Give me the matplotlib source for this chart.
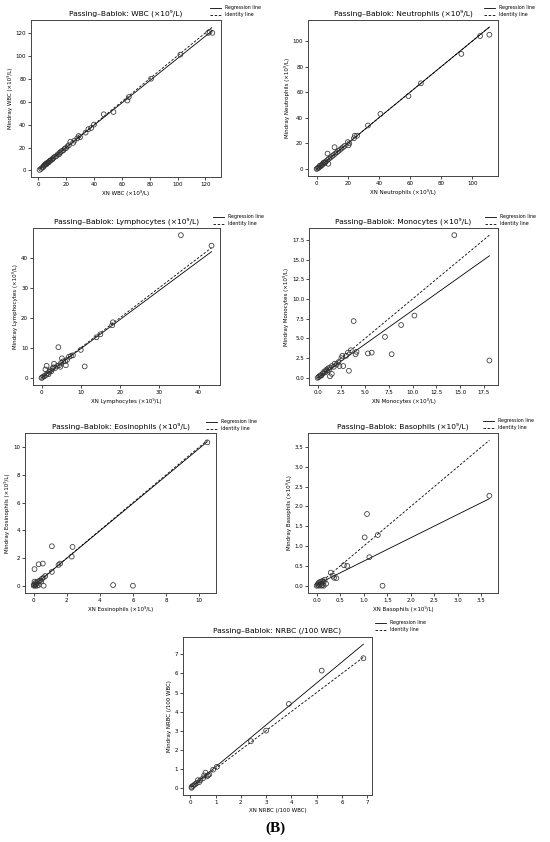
import matplotlib
matplotlib.use('Agg')
import matplotlib.pyplot as plt

W, H = 550, 842

# ---- data ----
wbc_x = [1, 2, 3, 3.5, 4, 4.5, 5, 5.5, 6, 6.5, 7, 7.5, 8, 8.5, 9, 10, 10.5, 11, 12, 13, 14, 15, 15.5, 16, 17, 18,
         19, 20, 21, 22, 23, 25, 26, 28, 29, 30, 34, 36, 38, 40, 47, 54, 64, 65, 81, 102, 122, 123, 125]
wbc_y = [0.5, 1.5, 2.5, 3, 4, 4.5, 5, 6, 5.5, 6.5, 7, 7, 8, 8.5, 9, 9.5, 10.5, 11, 12, 12.5, 14, 14, 15.5, 16, 17, 17.5,
         19, 19.5, 21, 22, 25, 24, 26, 28, 30, 29, 33, 36, 37, 40, 49, 51, 61, 64, 80, 101, 120, 121, 120]

neu_x = [0, 0.5, 1, 1.5, 2, 2.5, 3, 3.5, 4, 4.5, 5, 5.5, 6, 7, 7, 7.5, 8, 9, 10, 11, 11.5, 12, 13, 14, 15, 16, 17,
         18, 20, 20.5, 21, 24, 24.5, 26, 33, 41, 59, 67, 93, 105, 111]
neu_y = [0, 0.3, 1, 1, 2.5, 2, 3, 3, 4, 5, 4.5, 5, 6, 7, 12, 4, 8, 9, 10, 11, 17, 12, 13, 14, 15, 16, 17,
         18, 21, 18.5, 20, 24, 26, 26, 34, 43, 57, 67, 90, 104, 105]

lym_x = [0, 0.2, 0.5, 0.8, 1, 1.2, 1.3, 1.5, 1.8, 2, 2.2, 2.5, 2.8, 3, 3.2, 3.5, 4, 4.3, 4.5, 4.8, 5, 5.2, 5.5,
         6, 6.2, 6.5, 7, 7.5, 8, 10, 11, 14, 15, 18, 18.2, 35.5, 43.3]
lym_y = [0, 0.1, 0.5, 0.6, 2.8, 1, 4, 1.5, 1.2, 2, 2.5, 2.2, 3, 3.5, 4.7, 3.3, 4, 10.2, 4.2, 3.7, 5, 6.5, 5.5,
         5.5, 4.2, 6, 7, 7.3, 7.5, 9.3, 3.8, 13.5, 14.5, 17.5, 18.5, 47.5, 44]

mon_x = [0, 0.1, 0.2, 0.3, 0.4, 0.5, 0.6, 0.7, 0.8, 0.9, 1, 1.1, 1.2, 1.3, 1.3, 1.5, 1.5, 1.7, 1.8, 2, 2.2, 2.3,
         2.5, 2.6, 2.7, 3, 3.2, 3.3, 3.5, 3.8, 4, 4.1, 5.3, 5.7, 7.1, 7.8, 8.8, 10.2, 14.4, 18.1]
mon_y = [0, 0.1, 0.2, 0.3, 0.3, 0.5, 0.6, 0.8, 0.7, 1, 0.9, 1.2, 1, 1.3, 0.2, 1.5, 0.5, 1.4, 1.8, 1.7, 2, 1.5,
         2.5, 2.8, 1.5, 2.8, 3.2, 0.9, 3.5, 7.2, 3, 3.3, 3.1, 3.2, 5.2, 3, 6.7, 7.9, 18.1, 2.2]

eos_x = [0, 0.02, 0.05, 0.05, 0.05, 0.1, 0.1, 0.15, 0.2, 0.2, 0.25, 0.3, 0.3, 0.35, 0.4, 0.45, 0.5, 0.55, 0.6,
         0.6, 0.7, 1.1, 1.1, 1.5, 1.6, 2.3, 2.35, 4.8, 6.0, 10.5]
eos_y = [0, 0.1, 0.05, 0.3, 1.2, 0, 0.2, 0.1, 0.2, 0, 0.3, 1.55, 0.05, 0.35, 0.4, 0.3, 0.5, 1.6, 0,
         0.6, 0.7, 1.0, 2.85, 1.5, 1.6, 2.1, 2.8, 0.05, 0, 10.35]

bas_x = [0, 0.02, 0.03, 0.05, 0.05, 0.07, 0.08, 0.1, 0.1, 0.12, 0.13, 0.15, 0.15, 0.17, 0.2, 0.3, 0.35, 0.37,
         0.42, 0.58, 0.65, 1.02, 1.07, 1.12, 1.3, 1.4, 3.67]
bas_y = [0, 0.02, 0.05, 0, 0.08, 0.03, 0.1, 0, 0.05, 0.12, 0.02, 0.1, 0, 0.15, 0.05, 0.33, 0.25, 0.2,
         0.19, 0.52, 0.5, 1.22, 1.81, 0.72, 1.28, 0, 2.27]

nrb_x = [0.05, 0.05, 0.1, 0.15, 0.2, 0.25, 0.3, 0.35, 0.4, 0.5, 0.55, 0.6, 0.65, 0.7, 0.75, 0.9, 1.05,
         2.4, 3.0, 3.9, 5.2, 6.85]
nrb_y = [0, 0.05, 0.1, 0.15, 0.2, 0.25, 0.4, 0.3, 0.4, 0.5, 0.65, 0.8, 0.6, 0.65, 0.7, 0.95, 1.1,
         2.45, 3.0, 4.4, 6.15, 6.8]

# regression (intercept, slope)
reg = {'WBC': (0.5, 0.972), 'Neutrophils': (0.0, 1.0), 'Lymphocytes': (0.0, 0.97),
       'Monocytes': (0.0, 0.855), 'Eosinophils': (0.0, 0.99), 'Basophils': (0.03, 0.59),
       'NRBC': (0.0, 1.1)}

names = ['WBC', 'Neutrophils', 'Lymphocytes', 'Monocytes', 'Eosinophils', 'Basophils', 'NRBC']
xs = [wbc_x, neu_x, lym_x, mon_x, eos_x, bas_x, nrb_x]
ys = [wbc_y, neu_y, lym_y, mon_y, eos_y, bas_y, nrb_y]

# axes boxes in pixels: left, top, right, bottom ; legend anchor x, y
boxes = [(31, 20, 221, 177), (308, 20, 498, 176),
         (33, 228, 220, 385), (309, 228, 498, 385),
         (25, 433, 216, 593), (308, 433, 498, 593),
         (183, 637, 372, 795)]
leg_pos = [(208, 3), (482, 3), (211, 212), (483, 212), (204, 417), (481, 416), (373, 618)]

plt.rcParams['font.family'] = 'DejaVu Sans'
fig = plt.figure(figsize=(W/100, H/100), dpi=100)

for i, name in enumerate(names):
    l, t, r, b = boxes[i]
    ax = fig.add_axes([l/W, 1-b/H, (r-l)/W, (b-t)/H])
    x, y = xs[i], ys[i]
    if name == 'NRBC':
        unit = '(/100 WBC)'
    else:
        unit = '(×10⁹/L)'
    a, k = reg[name]
    x0, x1 = min(x), max(x)
    ax.scatter(x, y, s=12, facecolors='none', edgecolors='#333333', linewidths=0.55, zorder=3)
    ax.plot([x0, x1], [a + k*x0, a + k*x1], color='black', lw=0.6, label='Regression line')
    ax.plot([x0, x1], [x0, x1], color='black', lw=0.6, ls='--', dashes=(3, 2), label='Identity line')
    ax.set_title('Passing–Bablok: %s %s' % (name, unit), fontsize=5.4, pad=3)
    ax.set_xlabel('XN %s %s' % (name, unit), fontsize=4.0, labelpad=2)
    ax.set_ylabel('Mindray %s %s' % (name, unit), fontsize=4.0, labelpad=2)
    ax.tick_params(labelsize=4.0, length=2, width=0.5, pad=1.5)
    for sp in ax.spines.values():
        sp.set_linewidth(0.7)
        sp.set_color('#444444')
    lx, ly = leg_pos[i]
    ax.legend(loc='upper left', bbox_to_anchor=(lx/W, 1-ly/H), bbox_transform=fig.transFigure,
              frameon=False, fontsize=3.4, handlelength=2.2, borderpad=0, labelspacing=0.4)

fig.text(275/W, 1-828/H, '(B)', ha='center', va='center', fontsize=11,
         family='Liberation Serif', weight='bold')

fig.savefig('out.png', dpi=100)
